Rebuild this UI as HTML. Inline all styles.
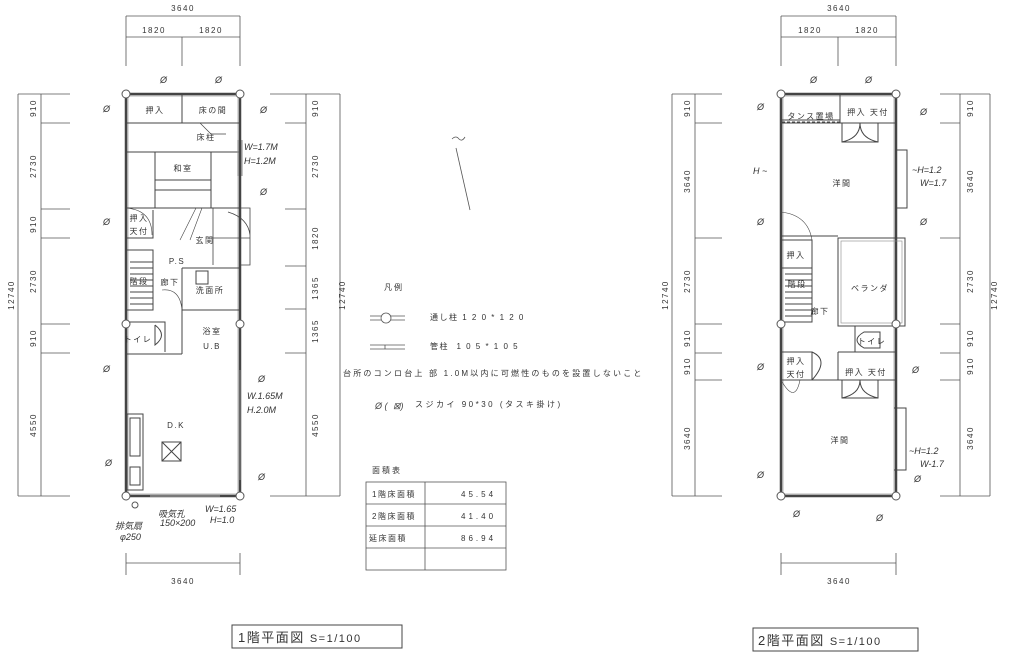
<!DOCTYPE html>
<html><head><meta charset="utf-8"><style>
body{margin:0;background:#fff}
svg{display:block}
text{font-family:"Liberation Sans","Noto Sans CJK JP",sans-serif;fill:#333}
.t{font-size:8px;letter-spacing:1.5px}
.h{font-family:"Liberation Sans",sans-serif;font-size:9px;fill:#444;font-style:italic}
</style></head><body>
<svg width="1014" height="659" viewBox="0 0 1014 659" xmlns="http://www.w3.org/2000/svg">
<g stroke="#555" stroke-width="0.8" fill="none">
<!-- ===== Floor 1 dimensions ===== -->
<path d="M126 16H240M126 37H240M126 37V66M182 37V66M240 37V66M126 16V37M240 16V37"/>
<path d="M18 94V496M41 94V496M18 94H70M18 496H70M41 123H70M41 209H70M41 238H70M41 324H70M41 353H70"/>
<path d="M306 94V496M340 94V496M270 94H340M270 496H340M285 123H306M285 209H306M285 266H306M285 309H306M285 353H306"/>
<path d="M126 553V575M240 553V575M126 563H240"/>
<!-- ===== Floor 2 dimensions ===== -->
<path d="M781 16H896M781 37H896M781 37V66M838 37V66M896 37V66M781 16V37M896 16V37"/>
<path d="M672 94V496M695 94V496M672 94H722M672 496H722M695 123H722M695 238H722M695 324H722M695 353H722M695 380H722"/>
<path d="M960 94V496M990 94V496M940 94H990M940 496H990M940 123H960M940 238H960M940 324H960M940 353H960M940 380H960"/>
<path d="M781 553V575M896 553V575M781 563H896"/>
</g>
<g class="t" text-anchor="middle">
<text x="183" y="11">3640</text><text x="154" y="33">1820</text><text x="211" y="33">1820</text>
<text x="183" y="584">3640</text>
<text x="839" y="11">3640</text><text x="810" y="33">1820</text><text x="867" y="33">1820</text>
<text x="839" y="584">3640</text>
</g>
<g class="t" text-anchor="middle">
<text transform="translate(14,295) rotate(-90)">12740</text>
<text transform="translate(36,108) rotate(-90)">910</text>
<text transform="translate(36,166) rotate(-90)">2730</text>
<text transform="translate(36,224) rotate(-90)">910</text>
<text transform="translate(36,281) rotate(-90)">2730</text>
<text transform="translate(36,338) rotate(-90)">910</text>
<text transform="translate(36,425) rotate(-90)">4550</text>
<text transform="translate(318,108) rotate(-90)">910</text>
<text transform="translate(318,166) rotate(-90)">2730</text>
<text transform="translate(318,238) rotate(-90)">1820</text>
<text transform="translate(318,288) rotate(-90)">1365</text>
<text transform="translate(318,331) rotate(-90)">1365</text>
<text transform="translate(318,425) rotate(-90)">4550</text>
<text transform="translate(345,295) rotate(-90)">12740</text>
<text transform="translate(668,295) rotate(-90)">12740</text>
<text transform="translate(690,108) rotate(-90)">910</text>
<text transform="translate(690,181) rotate(-90)">3640</text>
<text transform="translate(690,281) rotate(-90)">2730</text>
<text transform="translate(690,338) rotate(-90)">910</text>
<text transform="translate(690,366) rotate(-90)">910</text>
<text transform="translate(690,438) rotate(-90)">3640</text>
<text transform="translate(973,108) rotate(-90)">910</text>
<text transform="translate(973,181) rotate(-90)">3640</text>
<text transform="translate(973,281) rotate(-90)">2730</text>
<text transform="translate(973,338) rotate(-90)">910</text>
<text transform="translate(973,366) rotate(-90)">910</text>
<text transform="translate(973,438) rotate(-90)">3640</text>
<text transform="translate(997,295) rotate(-90)">12740</text>
</g>

<!-- ===== Floor 1 plan ===== -->
<g stroke="#444" stroke-width="1" fill="none">
<rect x="126" y="94" width="114" height="402" stroke-width="2.5"/>
<rect x="128" y="96" width="110" height="398" stroke="#888" stroke-width="0.6"/>
<path d="M182 94V123M126 123H240M126 152H240M155 152V208M211 152V208M126 208H240M155 180H211M155 190H211"/>
<path d="M200 123L211 134H226" stroke-width="0.7"/>
<path d="M182 123H240" stroke-dasharray="3 2"/>
<path d="M126 238H153V210M153 238V210"/>
<path d="M126 208Q152 210 152 235" stroke-width="0.6"/>
<path d="M213 208V265M213 238H250V208H240M250 238V265H240M228 212Q248 218 250 235" stroke-width="0.8"/>
<path d="M180 240L196 208M190 240L202 208" stroke-width="0.6"/>
<path d="M126 250H153V310H126M130 262H153M130 268H153M130 274H153M130 280H153M130 286H153M130 292H153M130 298H153M130 304H153"/>
<path d="M182 268H240M182 268V354M196 271H208V284H196ZM182 310H240M182 354H126M126 322H165V352M155 325V345Q168 335 155 325"/>
<path d="M162 290Q180 288 182 310" stroke-width="0.6"/>
<rect x="127" y="414" width="16" height="76"/>
<rect x="130" y="418" width="10" height="38"/>
<rect x="130" y="467" width="10" height="18"/>
<rect x="162" y="442" width="19" height="19"/>
<path d="M162 442L181 461M181 442L162 461"/>
<path d="M150 496H220" stroke-width="1.2" stroke="#999"/>
<path d="M240 370V480" stroke="#888"/>
<path d="M238 140V176M242 140V176" stroke="#888"/>
</g>
<g stroke="#555" stroke-width="1" fill="#fff">
<circle cx="126" cy="94" r="4"/><circle cx="240" cy="94" r="4"/><circle cx="126" cy="324" r="4"/><circle cx="240" cy="324" r="4"/><circle cx="126" cy="496" r="4"/><circle cx="240" cy="496" r="4"/>
<circle cx="135" cy="505" r="3"/>
</g>
<g class="t" text-anchor="middle">
<text x="155" y="113">押入</text><text x="213" y="113">床の間</text><text x="206" y="140">床柱</text>
<text x="183" y="171">和室</text><text x="139" y="221">押入</text><text x="139" y="234">天付</text>
<text x="205" y="243">玄関</text><text x="177" y="264">P.S</text><text x="139" y="284">階段</text>
<text x="170" y="285">廊下</text><text x="210" y="293">洗面所</text>
<text x="138" y="342">トイレ</text><text x="212" y="334">浴室</text><text x="212" y="349">U.B</text>
<text x="176" y="428">D.K</text>
</g>
<g class="h">
<text x="244" y="150">W=1.7M</text><text x="244" y="164">H=1.2M</text>
<text x="247" y="399">W.1.65M</text><text x="247" y="413">H.2.0M</text>
<text x="205" y="512">W=1.65</text><text x="210" y="523">H=1.0</text>
<text x="158" y="517">吸気孔</text><text x="160" y="526">150×200</text>
<text x="115" y="529">排気扇</text><text x="120" y="540">φ250</text>
</g>

<!-- ===== Floor 2 plan ===== -->
<g stroke="#444" stroke-width="1" fill="none">
<rect x="781" y="94" width="115" height="402" stroke-width="2.5"/>
<rect x="783" y="96" width="111" height="398" stroke="#888" stroke-width="0.6"/>
<path d="M840 94V123M781 123H896M782 120H840" />
<path d="M782 122H840" stroke-dasharray="3 2"/>
<path d="M842 123V142H878V123M842 142Q860 138 860 123M878 142Q860 138 860 123"/>
<path d="M896 150H907V208H896"/>
<path d="M781 236H838M781 240H812V268M781 268H812V322H781M785 274H812M785 280H812M785 286H812M785 292H812M785 298H812M785 304H812M785 310H812M785 316H812"/>
<path d="M781 212Q808 215 812 240" stroke-width="0.6"/>
<rect x="838" y="238" width="67" height="88"/>
<rect x="841" y="241" width="61" height="82" stroke="#888" stroke-width="0.6"/>
<path d="M855 326V352H896M838 352H896M864 332Q850 340 864 348H880V332Z"/>
<path d="M781 352H812V380H781M838 352V380H896M781 380H896"/>
<path d="M812 352Q830 360 812 380M842 380V398H878V380M842 398Q860 394 860 380M878 398Q860 394 860 380"/>
<path d="M781 380Q795 405 800 380" stroke-width="0.6"/>
<path d="M894 408H906V470H894"/>
</g>
<g stroke="#555" stroke-width="1" fill="#fff">
<circle cx="781" cy="94" r="4"/><circle cx="896" cy="94" r="4"/><circle cx="781" cy="324" r="4"/><circle cx="896" cy="324" r="4"/><circle cx="781" cy="496" r="4"/><circle cx="896" cy="496" r="4"/>
</g>
<g class="t" text-anchor="middle">
<text x="811" y="119">タンス置場</text><text x="868" y="115">押入 天付</text>
<text x="842" y="186">洋間</text><text x="796" y="258">押入</text><text x="797" y="287">階段</text>
<text x="820" y="314">廊下</text><text x="870" y="291">ベランダ</text><text x="872" y="344">トイレ</text>
<text x="796" y="364">押入</text><text x="796" y="377">天付</text><text x="866" y="375">押入 天付</text>
<text x="840" y="443">洋間</text>
</g>
<g class="h">
<text x="753" y="174">H ~</text>
<text x="912" y="173">~H=1.2</text><text x="920" y="186">W=1.7</text>
<text x="909" y="454">~H=1.2</text><text x="920" y="467">W-1.7</text>
</g>

<!-- brace symbols Ø -->
<g class="h" font-size="10">
<text x="160" y="83">Ø</text><text x="215" y="83">Ø</text><text x="103" y="112">Ø</text><text x="260" y="113">Ø</text>
<text x="260" y="195">Ø</text><text x="103" y="225">Ø</text><text x="103" y="372">Ø</text><text x="258" y="382">Ø</text>
<text x="105" y="466">Ø</text><text x="258" y="480">Ø</text>
<text x="810" y="83">Ø</text><text x="865" y="83">Ø</text><text x="757" y="110">Ø</text><text x="920" y="115">Ø</text>
<text x="757" y="225">Ø</text><text x="920" y="225">Ø</text><text x="757" y="370">Ø</text><text x="912" y="373">Ø</text>
<text x="757" y="478">Ø</text><text x="914" y="482">Ø</text><text x="793" y="517">Ø</text><text x="876" y="521">Ø</text>
</g>

<!-- north arrow -->
<g stroke="#555" stroke-width="0.8" fill="none">
<path d="M456 148L470 210M452 139Q456 135 459 139Q462 142 465 137"/>
</g>

<!-- legend -->
<g class="t">
<text x="384" y="290" letter-spacing="2">凡例</text>
<text x="430" y="320">通し柱 1 2 0 * 1 2 0</text>
<text x="430" y="349">管柱 &#160;1 0 5 * 1 0 5</text>
<text x="343" y="376" letter-spacing="2.2">台所のコンロ台上 部 1.0M以内に可燃性のものを設置しないこと</text>
<text x="415" y="407" letter-spacing="2.5">スジカイ 90*30 (タスキ掛け)</text>
<text x="372" y="473" letter-spacing="2">面積表</text>
<text x="372" y="497">1階床面積</text><text x="372" y="519">2階床面積</text><text x="369" y="541">延床面積</text>
<text x="461" y="497" letter-spacing="3">45.54</text><text x="461" y="519" letter-spacing="3">41.40</text><text x="461" y="541" letter-spacing="3">86.94</text>
</g>
<g stroke="#555" stroke-width="0.8" fill="none">
<path d="M370 316H405M370 320H405"/><circle cx="386" cy="318" r="5" fill="#fff"/>
<path d="M370 345H405M370 349H405M385 345V349"/>
<text x="375" y="409" class="h" stroke="none">Ø (</text><text x="393" y="409" class="h" stroke="none">⊠)</text>
<rect x="366" y="482" width="140" height="88"/>
<path d="M366 504H506M366 526H506M366 548H506M425 482V570"/>
</g>

<!-- titles -->
<g stroke="#444" stroke-width="1" fill="none">
<rect x="232" y="625" width="170" height="23"/>
<rect x="753" y="628" width="165" height="23"/>
</g>
<text x="238" y="642" font-size="13" letter-spacing="1.5">1階平面図 <tspan font-size="11">S=1/100</tspan></text>
<text x="758" y="645" font-size="13" letter-spacing="1.5">2階平面図 <tspan font-size="11">S=1/100</tspan></text>
</svg>
</body></html>
